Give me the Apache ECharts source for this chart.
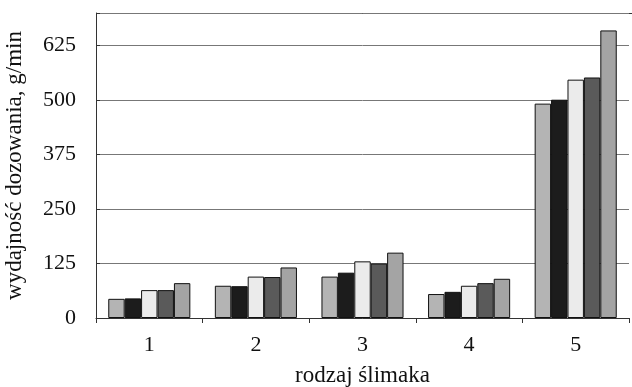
<!DOCTYPE html>
<html>
<head>
<meta charset="utf-8">
<script src="https://cdn.jsdelivr.net/npm/echarts@6/dist/echarts.min.js"></script>
<style>
  html, body { margin: 0; padding: 0; background: #fff; }
  #chart { width: 632px; height: 387px; }
</style>
</head>
<body>
<div id="chart"></div>
<script>
// rodzaje ślimaka
var categories = ['1', '2', '3', '4', '5'];

// wydajność dozowania, g/min - pięć serii na każdy ślimak
var seriesA = [44, 74, 95, 55, 492];
var seriesB = [45, 73, 104, 60, 501];
var seriesC = [64, 95, 130, 74, 547];
var seriesD = [64, 94, 125, 80, 552];
var seriesE = [80, 116, 150, 90, 660];

var yTicks = [0, 125, 250, 375, 500, 625];

var fills = ['#b4b4b4', '#1c1c1c', '#ebebeb', '#5a5a5a', '#a4a4a4'];
var font = '"Liberation Serif", serif';

function bar(data, color) {
    return {
        type: 'bar',
        data: data,
        barGap: '0%',
        barCategoryGap: '23%',
        itemStyle: {
            color: color,
            borderColor: '#111',
            borderWidth: 1
        },
        animation: false
    };
}

var chart = echarts.init(document.getElementById('chart'));
chart.setOption({
    backgroundColor: '#fff',
    grid: { left: 96, right: 3, top: 13, bottom: 69, outerBoundsMode: 'none', containLabel: false },
    xAxis: {
        type: 'category',
        data: categories,
        name: 'rodzaj ślimaka',
        nameLocation: 'middle',
        nameGap: 46,
        nameTextStyle: { fontFamily: font, fontSize: 23, color: '#111' },
        axisLine: { lineStyle: { color: '#333', width: 1 } },
        axisTick: { show: true, length: 5, inside: false, lineStyle: { color: '#333' } },
        axisLabel: { fontFamily: font, fontSize: 22, color: '#111', margin: 16 }
    },
    yAxis: {
        type: 'value',
        min: 0,
        max: 700,
        interval: 125,
        name: 'wydajność dozowania, g/min',
        nameLocation: 'middle',
        nameGap: 70,
        nameTextStyle: { fontFamily: font, fontSize: 23, color: '#111' },
        axisLine: { show: true, lineStyle: { color: '#333', width: 1 } },
        axisTick: { show: true, length: 4, inside: true, lineStyle: { color: '#333' } },
        axisLabel: {
            fontFamily: font, fontSize: 22, color: '#111', margin: 20,
            formatter: function (v) { return yTicks.indexOf(v) >= 0 ? String(v) : ''; }
        },
        splitLine: { lineStyle: { color: '#777', width: 1 } }
    },
    series: [
        bar(seriesA, fills[0]),
        bar(seriesB, fills[1]),
        bar(seriesC, fills[2]),
        bar(seriesD, fills[3]),
        bar(seriesE, fills[4])
    ],
    graphic: [{
        type: 'line',
        shape: { x1: 96, y1: 13.5, x2: 632, y2: 13.5 },
        style: { stroke: '#333', lineWidth: 1 },
        silent: true
    }]
});
</script>
</body>
</html>
